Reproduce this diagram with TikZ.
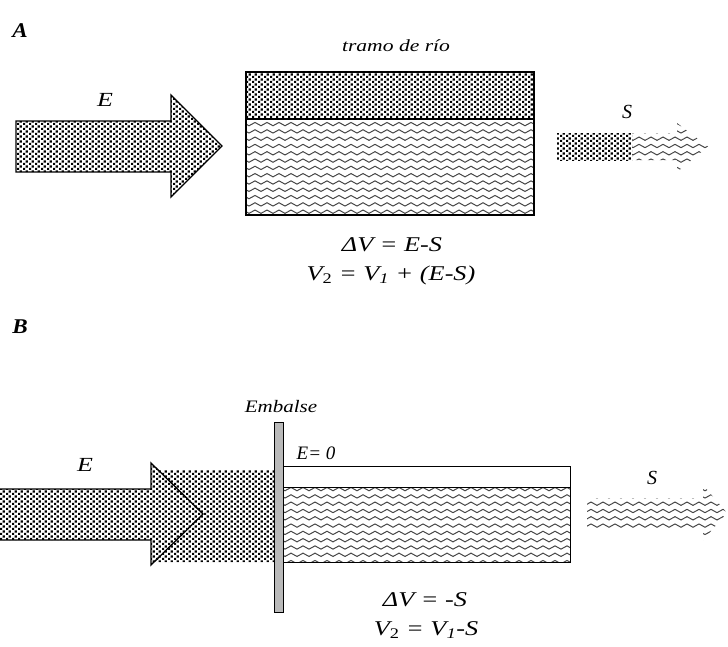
\documentclass[tikz,border=0pt]{standalone}
\usepackage{fontspec}
\setmainfont{Liberation Serif}
\usetikzlibrary{patterns}

\pgfdeclarepatternformonly{mydots}{\pgfqpoint{0pt}{0pt}}{\pgfqpoint{5.6pt}{4.8pt}}{\pgfqpoint{5.6pt}{4.8pt}}{
  \pgfpathrectangle{\pgfqpoint{0.1pt}{0.1pt}}{\pgfqpoint{2.2pt}{2.2pt}}
  \pgfpathrectangle{\pgfqpoint{2.9pt}{2.5pt}}{\pgfqpoint{2.2pt}{2.2pt}}
  \pgfusepath{fill}
}
\pgfdeclarepatternformonly{mywaves}{\pgfqpoint{0pt}{-1pt}}{\pgfqpoint{12pt}{8.5pt}}{\pgfqpoint{12pt}{7.3pt}}{
  \pgfsetlinewidth{1.0pt}
  \pgfpathmoveto{\pgfqpoint{0pt}{3.6pt}}
  \pgfpathcurveto{\pgfqpoint{2pt}{5.8pt}}{\pgfqpoint{4pt}{5.8pt}}{\pgfqpoint{6pt}{3.6pt}}
  \pgfpathcurveto{\pgfqpoint{8pt}{1.4pt}}{\pgfqpoint{10pt}{1.4pt}}{\pgfqpoint{12pt}{3.6pt}}
  \pgfusepath{stroke}
}

\tikzset{
  dotsfill/.style={pattern=mydots, pattern color=black},
  wavefill/.style={pattern=mywaves, pattern color=black!72},
  outline/.style={draw=black, line width=1.3pt},
  bigit/.style={font=\fontsize{20}{24}\selectfont\itshape, inner sep=0pt},
  eqit/.style={font=\fontsize{21}{25}\selectfont\itshape, inner sep=0pt, xscale=1.25},
  smallit/.style={font=\fontsize{17}{20}\selectfont\itshape, inner sep=0pt, xscale=1.27},
  embit/.style={font=\fontsize{17.5}{20}\selectfont\itshape, inner sep=0pt, xscale=1.2},
  midit/.style={font=\fontsize{19}{22}\selectfont\itshape, inner sep=0pt},
  partlab/.style={font=\fontsize{21}{24}\selectfont\bfseries\itshape, inner sep=0pt, xscale=1.1}
}

\begin{document}
\begin{tikzpicture}[x=1pt,y=-1pt]
\useasboundingbox (0,0) rectangle (728,646);

% ---------- Part A ----------
\node[partlab] (labA) at (20,31) {A};
\node[smallit] (tramo) at (396,46) {tramo de río};

% E arrow
\path[dotsfill,outline] (16,121) -- (171,121) -- (171,95) -- (222,146) -- (171,197) -- (171,172) -- (16,172) -- cycle;
\node[bigit, xscale=1.3] (EA) at (105,100) {E};

% river stretch box
\fill[dotsfill] (246,72) rectangle (534,119);
\fill[wavefill] (246,119) rectangle (534,215);
\draw[draw=black, line width=1.1pt] (246,72) rectangle (534,215);
\draw[line width=1.1pt] (246,119) -- (534,119);

% S arrow
\fill[dotsfill] (557,133) rectangle (632,160);
\fill[wavefill] (632,133) -- (677,133) -- (677,123) -- (708,146.5) -- (677,172) -- (677,160) -- (632,160) -- cycle;
\node[bigit] (SA) at (627,112) {S};

\node[eqit] (eqA1) at (392,245) {ΔV = E-S};
\node[eqit] (eqA2) at (391,275) {V\textsubscript{\upshape 2} = V\textsubscript{1} + (E-S)};

% ---------- Part B ----------
\node[partlab] (labB) at (20,327) {B};
\node[embit] (emb) at (281,407) {Embalse};

\fill[dotsfill] (0,489) -- (151,489) -- (151,463) -- (203,514) -- (151,565) -- (151,540) -- (0,540) -- cycle
                (151,470) -- (274,470) -- (274,562) -- (151,562) -- cycle;
\draw[outline] (0,489) -- (151,489) -- (151,463) -- (203,514) -- (151,565) -- (151,540) -- (0,540);
\node[bigit, xscale=1.3] (EB) at (85,465) {E};

% reservoir
\fill[white] (283,466) rectangle (570,487);
\fill[wavefill] (283,487) rectangle (570,562);
\draw[line width=0.9pt] (283,466) rectangle (570,562);
\draw[line width=0.9pt] (283,487) -- (570,487);
\node[midit] (E0) at (316,453) {E= 0};

% dam wall
\draw[fill=gray!55, line width=1pt] (274,422) rectangle (283,612);

% S arrow B
\fill[wavefill] (587,498) -- (703,498) -- (703,485) -- (727,513) -- (703,540) -- (703,528) -- (587,528) -- cycle;
\node[bigit] (SB) at (652,478) {S};

\node[eqit] (eqB1) at (425,600) {ΔV = -S};
\node[eqit] (eqB2) at (426,630) {V\textsubscript{\upshape 2} = V\textsubscript{1}-S};
\end{tikzpicture}
\end{document}
